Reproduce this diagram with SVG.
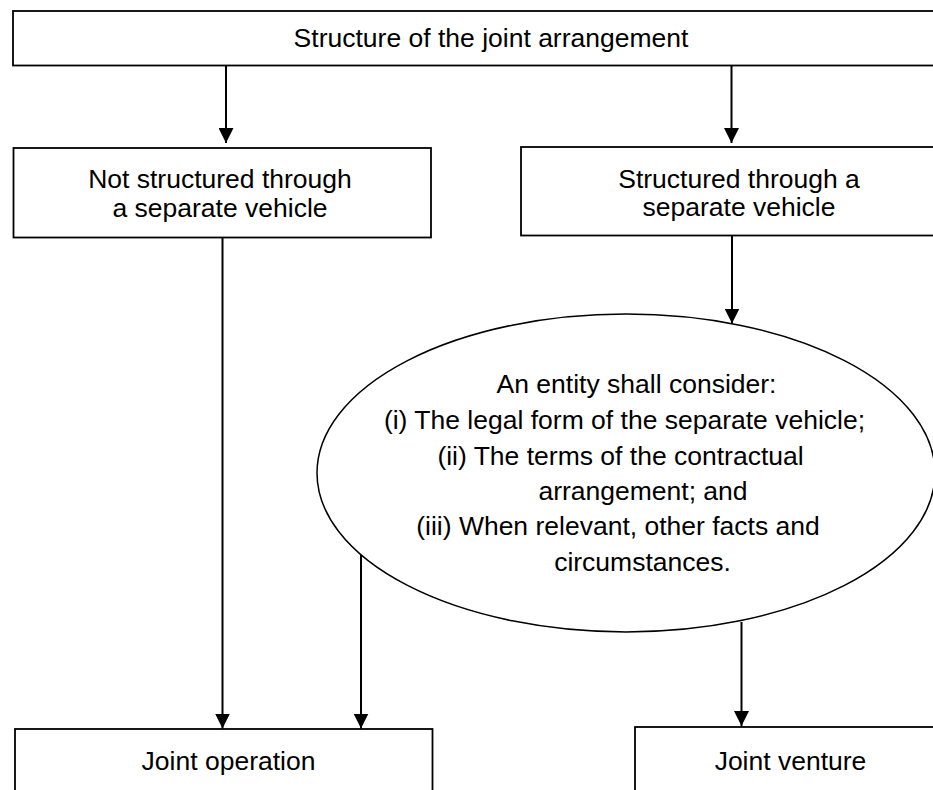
<svg xmlns="http://www.w3.org/2000/svg" width="933" height="790" viewBox="0 0 933 790">
<style>
  .box { fill: #fff; stroke: #000; stroke-width: 1.8; }
  .ell { fill: #fff; stroke: #000; stroke-width: 1.5; }
  .t { font-family: "Liberation Sans", Arial, sans-serif; font-size: 26.5px; fill: #000; text-anchor: middle; }
  .c { fill: none; stroke: #000; stroke-width: 2; }
</style>
<defs>
  <marker id="ah" markerUnits="userSpaceOnUse" viewBox="0 0 16 16" refX="16" refY="8" markerWidth="15" markerHeight="15" orient="auto">
    <path d="M0,0 L16,8 L0,16 z" fill="#000"/>
  </marker>
</defs>
<rect width="933" height="790" fill="#fff"/>
<g id="connectors">
  <line class="c" x1="226" y1="66" x2="226" y2="143" marker-end="url(#ah)"/>
  <line class="c" x1="731.5" y1="66" x2="731.5" y2="143" marker-end="url(#ah)"/>
  <line class="c" x1="732" y1="236" x2="732" y2="323.5" marker-end="url(#ah)"/>
  <line class="c" x1="222.5" y1="238" x2="222.5" y2="728.5" marker-end="url(#ah)"/>
  <line class="c" x1="361" y1="554" x2="361" y2="728.5" marker-end="url(#ah)"/>
  <line class="c" x1="741.5" y1="622" x2="741.5" y2="726" marker-end="url(#ah)"/>
</g>
<g id="node-top">
  <rect class="box" x="13" y="11" width="935" height="54.5"/>
  <text class="t" x="491" y="46.5">Structure of the joint arrangement</text>
</g>
<g id="node-not-structured">
  <rect class="box" x="13.5" y="148" width="417.5" height="89.5"/>
  <text class="t" x="220" y="187.5">Not structured through</text>
  <text class="t" x="220" y="216.5">a separate vehicle</text>
</g>
<g id="node-structured">
  <rect class="box" x="521" y="147" width="425" height="88.5"/>
  <text class="t" x="739" y="187.5">Structured through a</text>
  <text class="t" x="739" y="216">separate vehicle</text>
</g>
<g id="node-consider">
  <ellipse class="ell" cx="626" cy="473" rx="309" ry="159"/>
  <text class="t" x="636.5" y="393">An entity shall consider:</text>
  <text class="t" x="624.5" y="429">(i) The legal form of the separate vehicle;</text>
  <text class="t" x="620.5" y="465">(ii) The terms of the contractual</text>
  <text class="t" x="643" y="500">arrangement; and</text>
  <text class="t" x="618" y="535">(iii) When relevant, other facts and</text>
  <text class="t" x="642.5" y="571">circumstances.</text>
</g>
<g id="node-joint-operation">
  <rect class="box" x="15" y="729" width="417.5" height="80"/>
  <text class="t" x="228.5" y="770">Joint operation</text>
</g>
<g id="node-joint-venture">
  <rect class="box" x="635" y="727" width="320" height="80"/>
  <text class="t" x="790.5" y="770">Joint venture</text>
</g>
</svg>
